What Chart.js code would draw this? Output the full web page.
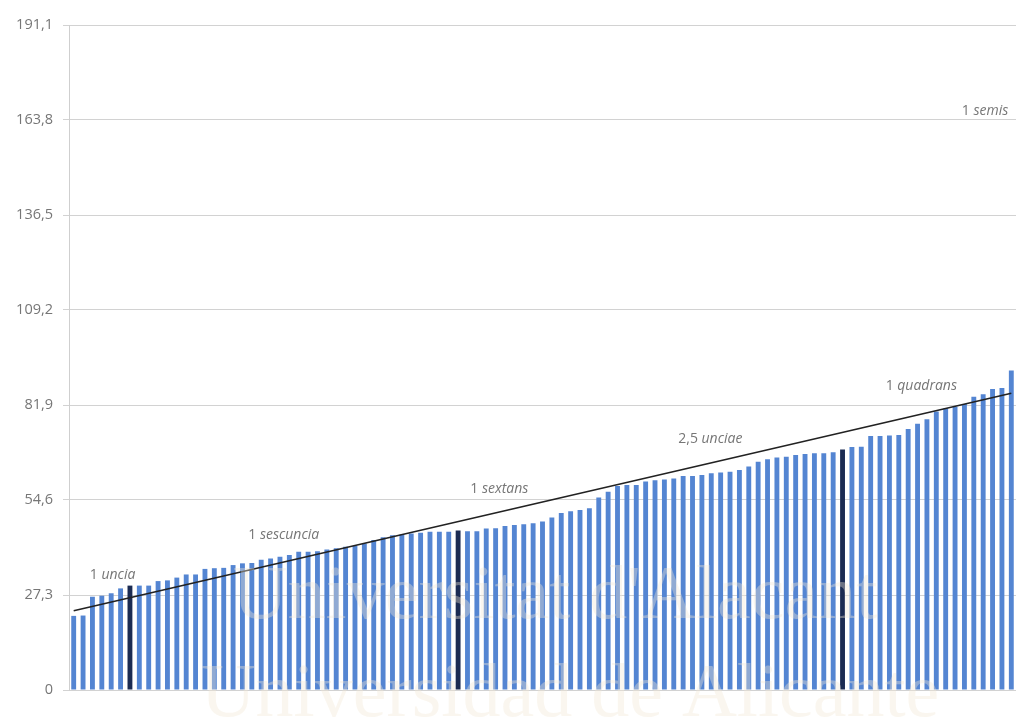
<!DOCTYPE html>
<html>
<head>
<meta charset="utf-8">
<script src="https://cdn.jsdelivr.net/npm/chart.js@4/dist/chart.umd.min.js"></script>
<style>
  html, body { margin: 0; padding: 0; background: #fff; }
  #wrap { width: 1016px; height: 724px; position: relative; }
</style>
</head>
<body>
<div id="wrap"><canvas id="coins"></canvas></div>
<script>
// pesos de las piezas, ordenados de menor a mayor
const WEIGHTS = [
  21.3, 21.4, 26.8, 27.1, 27.8, 29.2, 30.0, 30.0, 30.0, 31.3,
  31.5, 32.3, 33.2, 33.2, 34.8, 35.0, 35.1, 35.9, 36.4, 36.5,
  37.4, 37.8, 38.3, 38.8, 39.7, 39.7, 39.9, 40.4, 40.7, 41.2,
  41.4, 42.1, 43.1, 43.9, 44.5, 44.7, 45.0, 45.2, 45.5, 45.5,
  45.5, 45.8, 45.6, 45.6, 46.4, 46.5, 47.1, 47.4, 47.6, 47.9,
  48.4, 49.6, 50.9, 51.4, 51.7, 52.2, 55.3, 57.0, 58.6, 58.9,
  58.9, 59.9, 60.3, 60.5, 60.8, 61.5, 61.5, 61.8, 62.3, 62.5,
  62.7, 63.2, 64.2, 65.6, 66.3, 66.8, 67.0, 67.5, 67.8, 68.0,
  68.0, 68.3, 69.1, 69.8, 69.9, 73.0, 73.0, 73.1, 73.3, 75.0,
  76.5, 77.8, 80.0, 81.0, 81.4, 82.2, 84.3, 85.0, 86.5, 86.8,
  91.8
];
const CATEGORIES = WEIGHTS.map((_, i) => String(i + 1));

// barras destacadas (oscuras)
const HIGHLIGHT_IDX = [6, 41, 82];

// recta de tendencia: valor inicial y final
const TREND_VALUES = [22.8, 85.3];

const Y_TICKS = [0, 27.3, 54.6, 81.9, 109.2, 136.5, 163.8, 191.1];
const Y_TICK_LABELS = ["0", "27,3", "54,6", "81,9", "109,2", "136,5", "163,8", "191,1"];

// anotaciones de denominaciones
const NOTE_NUM = ["1", "1", "1", "2,5", "1", "1"];
const NOTE_WORD = ["uncia", "sescuncia", "sextans", "unciae", "quadrans", "semis"];
const NOTE_AT = [4.15, 22.4, 45.4, 67.9, 90.4, 97.2];
const NOTE_VALUE = [33.0, 44.5, 57.9, 72.1, 87.4, 166.5];

const BAR_COLOR = "#5485d2";
const BAR_DARK = "#1b2b52";
const TEXT_COLOR = "#767676";
const FONT = "'Open Sans', sans-serif";

const notesPlugin = {
  id: "notes",
  afterDatasetsDraw(chart) {
    const { ctx, scales } = chart;
    ctx.save();
    ctx.fillStyle = TEXT_COLOR;
    ctx.textBaseline = "middle";
    NOTE_WORD.forEach((word, i) => {
      const numTxt = NOTE_NUM[i] + " ";
      ctx.font = "14px " + FONT;
      const w1 = ctx.measureText(numTxt).width;
      ctx.font = "italic 14px " + FONT;
      const w2 = ctx.measureText(word).width;
      const cx = scales.x.getPixelForValue(NOTE_AT[i]);
      const cy = scales.y.getPixelForValue(NOTE_VALUE[i]);
      const left = cx - (w1 + w2) / 2;
      ctx.textAlign = "left";
      ctx.font = "14px " + FONT;
      ctx.fillText(numTxt, left, cy);
      ctx.font = "italic 14px " + FONT;
      ctx.fillText(word, left + w1, cy);
    });
    ctx.restore();
  },
};

// marca de agua del documento original
const watermarkPlugin = {
  id: "watermark",
  afterDraw(chart) {
    const { ctx } = chart;
    ctx.save();
    ctx.fillStyle = "rgba(242, 232, 212, 0.38)";
    ctx.textAlign = "center";
    ctx.textBaseline = "alphabetic";
    ctx.font = "76px 'Liberation Serif', serif";
    ctx.fillText("Universitat d'Alacant", 555, 618);
    ctx.fillText("Universidad de Alicante", 570, 716);
    ctx.restore();
  },
};

new Chart(document.getElementById("coins"), {
  data: {
    labels: CATEGORIES,
    datasets: [
      {
        type: "line",
        data: [
          { x: CATEGORIES[0], y: TREND_VALUES[0] },
          { x: CATEGORIES[CATEGORIES.length - 1], y: TREND_VALUES[1] },
        ],
        borderColor: "#222",
        borderWidth: 1.6,
        pointRadius: 0,
        order: 0,
      },
      {
        type: "bar",
        data: WEIGHTS,
        backgroundColor: WEIGHTS.map((_, i) =>
          HIGHLIGHT_IDX.includes(i) ? BAR_DARK : BAR_COLOR
        ),
        barPercentage: 0.52,
        categoryPercentage: 1.0,
        order: 1,
      },
    ],
  },
  options: {
    responsive: true,
    maintainAspectRatio: false,
    animation: false,
    layout: { padding: { top: 25, bottom: 34, left: 0, right: 0 } },
    plugins: {
      legend: { display: false },
      tooltip: { enabled: false },
    },
    scales: {
      x: {
        display: false,
      },
      y: {
        min: 0,
        max: 191.1,
        afterBuildTicks: (scale) => {
          scale.ticks = Y_TICKS.map((v) => ({ value: v }));
        },
        afterFit: (scale) => {
          scale.width = 69;
        },
        ticks: {
          padding: 10,
          color: TEXT_COLOR,
          font: { family: FONT, size: 14.5 },
          callback: (value, idx) => Y_TICK_LABELS[idx],
        },
        grid: {
          color: "#d2d2d2",
          lineWidth: 1,
          tickLength: 6,
        },
        border: { display: true, color: "#cfcfcf" },
      },
    },
  },
  plugins: [notesPlugin, watermarkPlugin],
});
</script>
</body>
</html>
